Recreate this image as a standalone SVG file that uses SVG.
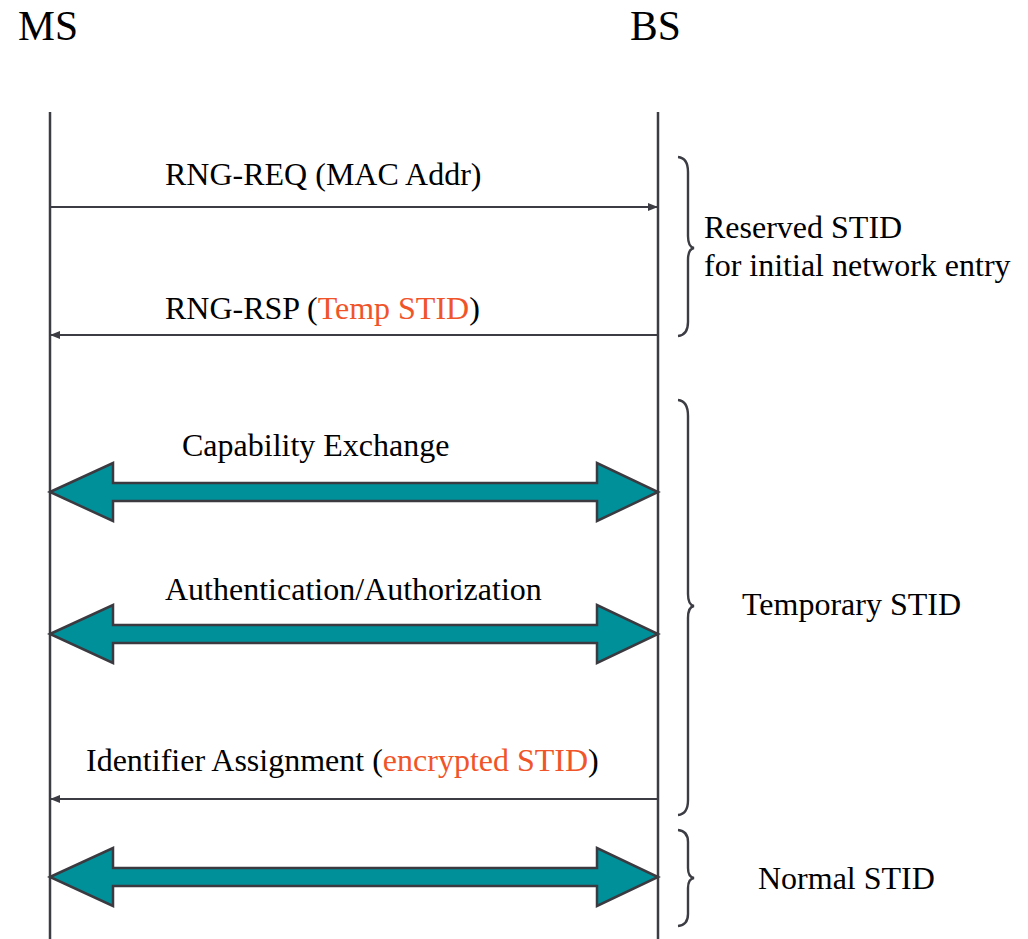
<svg xmlns="http://www.w3.org/2000/svg" width="1028" height="939" viewBox="0 0 1028 939">
<style>
.t{font-family:"Liberation Serif","Times New Roman",serif;font-size:32px;fill:#000}
.h{font-family:"Liberation Serif","Times New Roman",serif;font-size:41.5px;fill:#000}
.o{fill:#f0552a}
.life{stroke:#3c3c44;stroke-width:2.5;fill:none}
.msg{stroke:#3c3c44;stroke-width:2;fill:none}
.big{fill:#00909a;stroke:#3a3a40;stroke-width:2.5;stroke-linejoin:miter}
.brace{fill:none;stroke:#3c3c44;stroke-width:2.4}
</style>
<defs>
<marker id="ah" viewBox="0 0 10 8" refX="10" refY="4" markerWidth="10" markerHeight="8" markerUnits="userSpaceOnUse" orient="auto-start-reverse">
<path d="M0,0 L10,4 L0,8 Z" fill="#3c3c44"/>
</marker>
</defs>
<rect width="1028" height="939" fill="#fff"/>
<g id="ms"><text class="h" x="18" y="40">MS</text><line class="life" x1="50" y1="112" x2="50" y2="939"/></g>
<g id="bs"><text class="h" x="630" y="40">BS</text><line class="life" x1="658" y1="112" x2="658" y2="939"/></g>
<g id="connectors">
<line class="msg" x1="50" y1="207" x2="658" y2="207" marker-end="url(#ah)"/>
<line class="msg" x1="658" y1="335" x2="50" y2="335" marker-end="url(#ah)"/>
<polygon class="big" points="50,492 113,463 113,483 597,483 597,463 658,492 597,521 597,501 113,501 113,521"/>
<polygon class="big" points="50,634 113,605 113,625 597,625 597,605 658,634 597,663 597,643 113,643 113,663"/>
<line class="msg" x1="658" y1="799" x2="50" y2="799" marker-end="url(#ah)"/>
<polygon class="big" points="50,877 113,848 113,868 597,868 597,848 658,877 597,906 597,886 113,886 113,906"/>
</g>
<g id="labels">
<text class="t" x="165" y="185">RNG-REQ (MAC Addr)</text>
<text class="t" x="165" y="319">RNG-RSP (<tspan class="o">Temp STID</tspan>)</text>
<text class="t" x="182" y="456">Capability Exchange</text>
<text class="t" x="165" y="600">Authentication/Authorization</text>
<text class="t" x="86" y="771">Identifier Assignment (<tspan class="o">encrypted STID</tspan>)</text>
</g>
<g id="brace-reserved">
<path class="brace" d="M678,157 Q688,158 688,172 L688,236 Q688,247 694,248 Q688,249 688,260 L688,322 Q688,335 678,336"/>
<text class="t" x="704" y="238">Reserved STID</text>
<text class="t" x="704" y="276">for initial network entry</text>
</g>
<g id="brace-temporary">
<path class="brace" d="M678,400 Q688,401 688,416 L688,594 Q688,605 694,606 Q688,607 688,618 L688,800 Q688,814 678,815"/>
<text class="t" x="742" y="615">Temporary STID</text>
</g>
<g id="brace-normal">
<path class="brace" d="M678,830 Q688,831 688,842 L688,868 Q688,877 694,878 Q688,879 688,888 L688,914 Q688,925 678,926"/>
<text class="t" x="758" y="889">Normal STID</text>
</g>
</svg>
